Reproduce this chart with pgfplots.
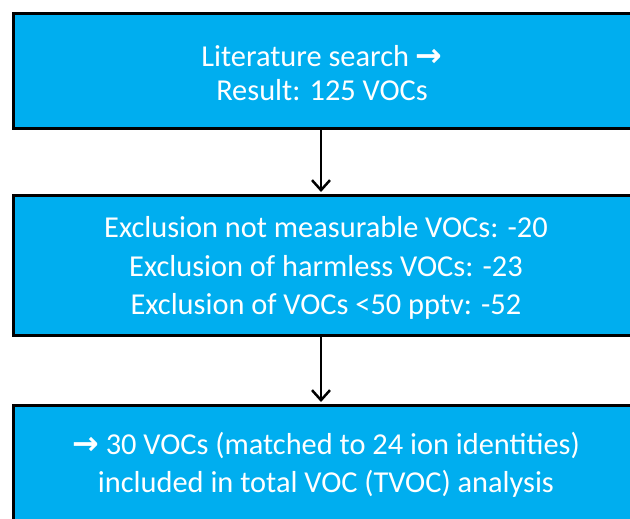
\documentclass[border=0pt]{standalone}
\usepackage{fontspec}
\setmainfont{Carlito}
\newfontfamily\arrowfont{DejaVu Sans}
\usepackage{pgfplots}
\pgfplotsset{compat=1.18}
\usetikzlibrary{arrows.meta}
\definecolor{boxblue}{RGB}{0,174,239}
\newcommand{\rarr}{{\arrowfont\bfseries\fontsize{32}{35}\selectfont →}}
\begin{document}
\begin{tikzpicture}
\begin{axis}[
  hide axis, scale only axis,
  width=630bp, height=518bp,
  xmin=0, xmax=630, ymin=0, ymax=518,
  y dir=reverse,
  clip=true,
]
% boxes
\addplot[fill=boxblue, draw=black, line width=3bp] coordinates {(13,14) (660,14) (660,128) (13,128)} -- cycle;
\addplot[fill=boxblue, draw=black, line width=3bp] coordinates {(13,195) (660,195) (660,335) (13,335)} -- cycle;
\addplot[fill=boxblue, draw=black, line width=3bp] coordinates {(13,405) (660,405) (660,560) (13,560)} -- cycle;
% arrows
\addplot[black, line width=2.5bp, -{Straight Barb[length=10bp, width=18bp, line width=2.5bp]}] coordinates {(321,129.5) (321,192)};
\addplot[black, line width=2.5bp, -{Straight Barb[length=10bp, width=18bp, line width=2.5bp]}] coordinates {(321,336.5) (321,402)};
% text
\begin{scope}[every node/.style={anchor=base, text=white, font=\fontsize{30.5}{35}\selectfont, inner sep=0pt}]
\node at (axis cs:322,66.5) {Literature search \rarr};
\node at (axis cs:322,100.5) {Result: 125 VOCs};
\node at (axis cs:326,237.5) {Exclusion not measurable VOCs: -20};
\node at (axis cs:326,276.5) {Exclusion of harmless VOCs: -23};
\node at (axis cs:326,314.5) {Exclusion of VOCs <50 pptv: -52};
\node at (axis cs:326,454.5) {\rarr\ 30 VOCs (matched to 24 ion identities)};
\node at (axis cs:326,492.5) {included in total VOC (TVOC) analysis};
\end{scope}
\end{axis}
\pgfresetboundingbox
\useasboundingbox (current axis.south west) rectangle (current axis.north east);
\end{tikzpicture}
\end{document}
